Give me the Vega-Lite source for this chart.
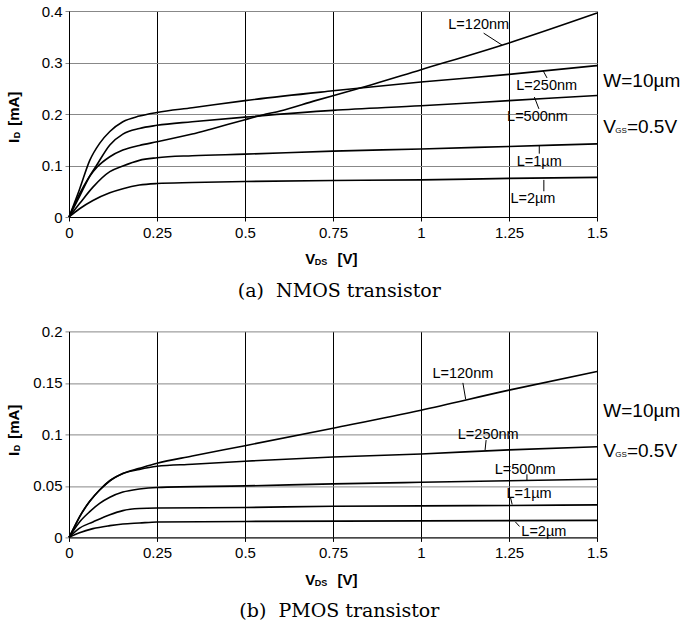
{
  "$schema": "https://vega.github.io/schema/vega-lite/v6.json",
  "padding": {"left": 6, "top": 4, "right": 0, "bottom": 0},
  "background": "#ffffff",
  "config": {
    "font": "Liberation Sans",
    "view": {"stroke": null},
    "axis": {"labelFont": "Liberation Sans", "labelFontSize": 15, "labelColor": "#000000", "domainColor": "#000000", "tickSize": 4, "title": null}
  },
  "bounds": "flush",
  "spacing": 114.4,
  "datasets": {
    "nmos": [
      {"L": "120nm", "v": 0, "i": 0}, {"L": "120nm", "v": 0.03, "i": 0.04}, {"L": "120nm", "v": 0.06, "i": 0.08}, {"L": "120nm", "v": 0.08, "i": 0.097}, {"L": "120nm", "v": 0.116, "i": 0.117}, {"L": "120nm", "v": 0.153, "i": 0.13}, {"L": "120nm", "v": 0.2, "i": 0.139}, {"L": "120nm", "v": 0.25, "i": 0.146}, {"L": "120nm", "v": 0.35, "i": 0.161}, {"L": "120nm", "v": 0.4, "i": 0.17}, {"L": "120nm", "v": 0.5, "i": 0.189}, {"L": "120nm", "v": 0.55, "i": 0.198}, {"L": "120nm", "v": 0.6, "i": 0.206}, {"L": "120nm", "v": 0.7, "i": 0.226}, {"L": "120nm", "v": 0.8, "i": 0.245}, {"L": "120nm", "v": 1.0, "i": 0.286}, {"L": "120nm", "v": 1.25, "i": 0.338}, {"L": "120nm", "v": 1.5, "i": 0.396},
      {"L": "250nm", "v": 0, "i": 0}, {"L": "250nm", "v": 0.03, "i": 0.054}, {"L": "250nm", "v": 0.059, "i": 0.11}, {"L": "250nm", "v": 0.087, "i": 0.143}, {"L": "250nm", "v": 0.116, "i": 0.166}, {"L": "250nm", "v": 0.153, "i": 0.185}, {"L": "250nm", "v": 0.2, "i": 0.196}, {"L": "250nm", "v": 0.25, "i": 0.203}, {"L": "250nm", "v": 0.35, "i": 0.212}, {"L": "250nm", "v": 0.5, "i": 0.226}, {"L": "250nm", "v": 0.75, "i": 0.245}, {"L": "250nm", "v": 1.0, "i": 0.262}, {"L": "250nm", "v": 1.25, "i": 0.277}, {"L": "250nm", "v": 1.5, "i": 0.294},
      {"L": "500nm", "v": 0, "i": 0}, {"L": "500nm", "v": 0.03, "i": 0.045}, {"L": "500nm", "v": 0.059, "i": 0.08}, {"L": "500nm", "v": 0.078, "i": 0.1}, {"L": "500nm", "v": 0.116, "i": 0.14}, {"L": "500nm", "v": 0.153, "i": 0.161}, {"L": "500nm", "v": 0.2, "i": 0.172}, {"L": "500nm", "v": 0.25, "i": 0.178}, {"L": "500nm", "v": 0.35, "i": 0.185}, {"L": "500nm", "v": 0.5, "i": 0.194}, {"L": "500nm", "v": 0.75, "i": 0.207}, {"L": "500nm", "v": 1.0, "i": 0.216}, {"L": "500nm", "v": 1.25, "i": 0.226}, {"L": "500nm", "v": 1.5, "i": 0.236},
      {"L": "1um", "v": 0, "i": 0}, {"L": "1um", "v": 0.03, "i": 0.026}, {"L": "1um", "v": 0.068, "i": 0.058}, {"L": "1um", "v": 0.116, "i": 0.088}, {"L": "1um", "v": 0.153, "i": 0.099}, {"L": "1um", "v": 0.2, "i": 0.11}, {"L": "1um", "v": 0.25, "i": 0.115}, {"L": "1um", "v": 0.35, "i": 0.119}, {"L": "1um", "v": 0.5, "i": 0.122}, {"L": "1um", "v": 0.75, "i": 0.128}, {"L": "1um", "v": 1.0, "i": 0.132}, {"L": "1um", "v": 1.25, "i": 0.137}, {"L": "1um", "v": 1.5, "i": 0.142},
      {"L": "2um", "v": 0, "i": 0}, {"L": "2um", "v": 0.03, "i": 0.016}, {"L": "2um", "v": 0.068, "i": 0.032}, {"L": "2um", "v": 0.116, "i": 0.047}, {"L": "2um", "v": 0.153, "i": 0.055}, {"L": "2um", "v": 0.2, "i": 0.062}, {"L": "2um", "v": 0.25, "i": 0.065}, {"L": "2um", "v": 0.35, "i": 0.067}, {"L": "2um", "v": 0.5, "i": 0.069}, {"L": "2um", "v": 0.75, "i": 0.071}, {"L": "2um", "v": 1.0, "i": 0.072}, {"L": "2um", "v": 1.25, "i": 0.075}, {"L": "2um", "v": 1.5, "i": 0.077}
    ],
    "pmos": [
      {"L": "120nm", "v": 0, "i": 0}, {"L": "120nm", "v": 0.015, "i": 0.01}, {"L": "120nm", "v": 0.03, "i": 0.02}, {"L": "120nm", "v": 0.059, "i": 0.035}, {"L": "120nm", "v": 0.087, "i": 0.046}, {"L": "120nm", "v": 0.116, "i": 0.055}, {"L": "120nm", "v": 0.153, "i": 0.062}, {"L": "120nm", "v": 0.2, "i": 0.067}, {"L": "120nm", "v": 0.25, "i": 0.072}, {"L": "120nm", "v": 0.35, "i": 0.079}, {"L": "120nm", "v": 0.5, "i": 0.089}, {"L": "120nm", "v": 0.75, "i": 0.106}, {"L": "120nm", "v": 1.0, "i": 0.1235}, {"L": "120nm", "v": 1.25, "i": 0.143}, {"L": "120nm", "v": 1.5, "i": 0.161},
      {"L": "250nm", "v": 0, "i": 0}, {"L": "250nm", "v": 0.015, "i": 0.01}, {"L": "250nm", "v": 0.03, "i": 0.02}, {"L": "250nm", "v": 0.059, "i": 0.035}, {"L": "250nm", "v": 0.087, "i": 0.046}, {"L": "250nm", "v": 0.116, "i": 0.055}, {"L": "250nm", "v": 0.153, "i": 0.062}, {"L": "250nm", "v": 0.2, "i": 0.066}, {"L": "250nm", "v": 0.25, "i": 0.069}, {"L": "250nm", "v": 0.35, "i": 0.071}, {"L": "250nm", "v": 0.5, "i": 0.074}, {"L": "250nm", "v": 0.75, "i": 0.078}, {"L": "250nm", "v": 1.0, "i": 0.081}, {"L": "250nm", "v": 1.25, "i": 0.085}, {"L": "250nm", "v": 1.5, "i": 0.088},
      {"L": "500nm", "v": 0, "i": 0}, {"L": "500nm", "v": 0.03, "i": 0.015}, {"L": "500nm", "v": 0.059, "i": 0.025}, {"L": "500nm", "v": 0.087, "i": 0.033}, {"L": "500nm", "v": 0.116, "i": 0.039}, {"L": "500nm", "v": 0.153, "i": 0.044}, {"L": "500nm", "v": 0.2, "i": 0.047}, {"L": "500nm", "v": 0.25, "i": 0.0485}, {"L": "500nm", "v": 0.5, "i": 0.05}, {"L": "500nm", "v": 0.75, "i": 0.052}, {"L": "500nm", "v": 1.0, "i": 0.0535}, {"L": "500nm", "v": 1.25, "i": 0.055}, {"L": "500nm", "v": 1.5, "i": 0.0565},
      {"L": "1um", "v": 0, "i": 0}, {"L": "1um", "v": 0.03, "i": 0.009}, {"L": "1um", "v": 0.068, "i": 0.015}, {"L": "1um", "v": 0.116, "i": 0.022}, {"L": "1um", "v": 0.153, "i": 0.026}, {"L": "1um", "v": 0.2, "i": 0.028}, {"L": "1um", "v": 0.25, "i": 0.0285}, {"L": "1um", "v": 0.5, "i": 0.029}, {"L": "1um", "v": 0.75, "i": 0.0303}, {"L": "1um", "v": 1.0, "i": 0.0306}, {"L": "1um", "v": 1.25, "i": 0.031}, {"L": "1um", "v": 1.5, "i": 0.0316},
      {"L": "2um", "v": 0, "i": 0}, {"L": "2um", "v": 0.03, "i": 0.0045}, {"L": "2um", "v": 0.068, "i": 0.0085}, {"L": "2um", "v": 0.116, "i": 0.0114}, {"L": "2um", "v": 0.153, "i": 0.013}, {"L": "2um", "v": 0.2, "i": 0.014}, {"L": "2um", "v": 0.25, "i": 0.015}, {"L": "2um", "v": 0.5, "i": 0.0155}, {"L": "2um", "v": 1.0, "i": 0.016}, {"L": "2um", "v": 1.5, "i": 0.0165}
    ],
    "nlead": [
      {"v": 1.178, "i": 0.357, "v2": 1.23, "i2": 0.334},
      {"v": 1.347, "i": 0.284, "v2": 1.358, "i2": 0.27},
      {"v": 1.322, "i": 0.233, "v2": 1.335, "i2": 0.21},
      {"v": 1.336, "i": 0.139, "v2": 1.336, "i2": 0.123},
      {"v": 1.349, "i": 0.072, "v2": 1.349, "i2": 0.05}
    ],
    "plead": [
      {"v": 1.119, "i": 0.15, "v2": 1.127, "i2": 0.134},
      {"v": 1.185, "i": 0.0945, "v2": 1.182, "i2": 0.0848},
      {"v": 1.301, "i": 0.0613, "v2": 1.301, "i2": 0.0548},
      {"v": 1.254, "i": 0.039, "v2": 1.259, "i2": 0.032},
      {"v": 1.268, "i": 0.0151, "v2": 1.28, "i2": 0.0106}
    ],
    "nlab": [
      {"v": 1.164, "i": 0.373, "t": "L=120nm"},
      {"v": 1.357, "i": 0.255, "t": "L=250nm"},
      {"v": 1.331, "i": 0.194, "t": "L=500nm"},
      {"v": 1.336, "i": 0.106, "t": "L=1µm"},
      {"v": 1.318, "i": 0.0346, "t": "L=2µm"}
    ],
    "plab": [
      {"v": 1.119, "i": 0.159, "t": "L=120nm"},
      {"v": 1.191, "i": 0.0995, "t": "L=250nm"},
      {"v": 1.296, "i": 0.0653, "t": "L=500nm"},
      {"v": 1.307, "i": 0.042, "t": "L=1µm"},
      {"v": 1.349, "i": 0.0048, "t": "L=2µm"}
    ],
    "nnote": [
      {"role": "big", "v": 1.518, "i": 0.265, "t": "W=10µm"},
      {"role": "big", "v": 1.518, "i": 0.175, "t": "V"},
      {"role": "big", "v": 1.585, "i": 0.175, "t": "=0.5V"},
      {"role": "sub", "v": 1.552, "i": 0.1676, "t": "GS"},
      {"role": "tb", "v": 0.671, "i": -0.082, "t": "V"},
      {"role": "tb", "v": 0.763, "i": -0.082, "t": "[V]"},
      {"role": "ts", "v": 0.698, "i": -0.088, "t": "DS"},
      {"role": "yb", "v": -0.157, "i": 0.1437, "t": "I"},
      {"role": "yb", "v": -0.157, "i": 0.177, "t": "[mA]"},
      {"role": "ys", "v": -0.149, "i": 0.153, "t": "D"},
      {"role": "cap", "v": 0.768, "i": -0.143, "t": "(a)\u00a0 NMOS transistor"}
    ],
    "pnote": [
      {"role": "big", "v": 1.518, "i": 0.1226, "t": "W=10µm"},
      {"role": "big", "v": 1.518, "i": 0.0835, "t": "V"},
      {"role": "big", "v": 1.585, "i": 0.0835, "t": "=0.5V"},
      {"role": "sub", "v": 1.552, "i": 0.0797, "t": "GS"},
      {"role": "tb", "v": 0.671, "i": -0.0409, "t": "V"},
      {"role": "tb", "v": 0.763, "i": -0.0409, "t": "[V]"},
      {"role": "ts", "v": 0.698, "i": -0.0438, "t": "DS"},
      {"role": "yb", "v": -0.157, "i": 0.079, "t": "I"},
      {"role": "yb", "v": -0.157, "i": 0.0957, "t": "[mA]"},
      {"role": "ys", "v": -0.149, "i": 0.0836, "t": "D"},
      {"role": "cap", "v": 0.768, "i": -0.0713, "t": "(b)\u00a0 PMOS transistor"}
    ]
  },
  "vconcat": [
    {
      "width": 528,
      "height": 206,
      "encoding": {
        "x": {"field": "v", "type": "quantitative", "scale": {"domain": [0, 1.5]},
              "axis": {"values": [0, 0.25, 0.5, 0.75, 1, 1.25, 1.5], "labelExpr": "'' + datum.value", "labelFontSize": 15, "labelFont": "Liberation Sans", "grid": true, "gridColor": "#000000", "gridOpacity": 1, "tickColor": "#000000", "labelPadding": 4, "labelFlush": false, "labelOverlap": false}},
        "y": {"field": "i", "type": "quantitative", "scale": {"domain": [0, 0.4]},
              "axis": {"values": [0, 0.1, 0.2, 0.3, 0.4], "labelExpr": "'' + datum.value", "labelFontSize": 15, "labelFont": "Liberation Sans", "grid": true, "gridColor": "#888888", "gridOpacity": 1, "tickColor": "#888888", "labelPadding": 3, "labelFlush": false, "labelOverlap": false}}
      },
      "layer": [
        {"data": {"name": "nmos"}, "mark": {"type": "line", "color": "#000000", "strokeWidth": 1.6, "interpolate": "monotone"}, "encoding": {"detail": {"field": "L"}}},
        {"data": {"name": "nlead"}, "mark": {"type": "rule", "color": "#000000", "strokeWidth": 1}, "encoding": {"x2": {"field": "v2"}, "y2": {"field": "i2"}}},
        {"data": {"name": "nlab"}, "mark": {"type": "text", "fontSize": 14.5, "align": "center", "baseline": "middle", "color": "#000000"}, "encoding": {"text": {"field": "t"}}},
        {"data": {"name": "nnote"}, "transform": [{"filter": "datum.role === 'big'"}], "mark": {"type": "text", "fontSize": 19, "align": "left", "baseline": "middle", "color": "#000000"}, "encoding": {"text": {"field": "t"}}},
        {"data": {"name": "nnote"}, "transform": [{"filter": "datum.role === 'sub'"}], "mark": {"type": "text", "fontSize": 8, "align": "left", "baseline": "middle", "color": "#000000"}, "encoding": {"text": {"field": "t"}}},
        {"data": {"name": "nnote"}, "transform": [{"filter": "datum.role === 'tb'"}], "mark": {"type": "text", "fontSize": 15, "fontWeight": "bold", "align": "left", "baseline": "middle", "color": "#000000"}, "encoding": {"text": {"field": "t"}}},
        {"data": {"name": "nnote"}, "transform": [{"filter": "datum.role === 'ts'"}], "mark": {"type": "text", "fontSize": 9, "fontWeight": "bold", "align": "left", "baseline": "middle", "color": "#000000"}, "encoding": {"text": {"field": "t"}}},
        {"data": {"name": "nnote"}, "transform": [{"filter": "datum.role === 'yb'"}], "mark": {"type": "text", "fontSize": 15, "fontWeight": "bold", "align": "left", "baseline": "middle", "angle": 270, "color": "#000000"}, "encoding": {"text": {"field": "t"}}},
        {"data": {"name": "nnote"}, "transform": [{"filter": "datum.role === 'ys'"}], "mark": {"type": "text", "fontSize": 9, "fontWeight": "bold", "align": "left", "baseline": "middle", "angle": 270, "color": "#000000"}, "encoding": {"text": {"field": "t"}}},
        {"data": {"name": "nnote"}, "transform": [{"filter": "datum.role === 'cap'"}], "mark": {"type": "text", "font": "DejaVu Serif", "fontSize": 19, "align": "center", "baseline": "middle", "color": "#000000"}, "encoding": {"text": {"field": "t"}}}
      ]
    },
    {
      "width": 528,
      "height": 206,
      "encoding": {
        "x": {"field": "v", "type": "quantitative", "scale": {"domain": [0, 1.5]},
              "axis": {"values": [0, 0.25, 0.5, 0.75, 1, 1.25, 1.5], "labelExpr": "'' + datum.value", "labelFontSize": 15, "labelFont": "Liberation Sans", "grid": true, "gridColor": "#000000", "gridOpacity": 1, "tickColor": "#000000", "labelPadding": 4, "labelFlush": false, "labelOverlap": false}},
        "y": {"field": "i", "type": "quantitative", "scale": {"domain": [0, 0.2]},
              "axis": {"values": [0, 0.05, 0.1, 0.15, 0.2], "labelExpr": "'' + datum.value", "labelFontSize": 15, "labelFont": "Liberation Sans", "grid": true, "gridColor": "#888888", "gridOpacity": 1, "tickColor": "#888888", "labelPadding": 3, "labelFlush": false, "labelOverlap": false}}
      },
      "layer": [
        {"data": {"name": "pmos"}, "mark": {"type": "line", "color": "#000000", "strokeWidth": 1.6, "interpolate": "monotone"}, "encoding": {"detail": {"field": "L"}}},
        {"data": {"name": "plead"}, "mark": {"type": "rule", "color": "#000000", "strokeWidth": 1}, "encoding": {"x2": {"field": "v2"}, "y2": {"field": "i2"}}},
        {"data": {"name": "plab"}, "mark": {"type": "text", "fontSize": 14.5, "align": "center", "baseline": "middle", "color": "#000000"}, "encoding": {"text": {"field": "t"}}},
        {"data": {"name": "pnote"}, "transform": [{"filter": "datum.role === 'big'"}], "mark": {"type": "text", "fontSize": 19, "align": "left", "baseline": "middle", "color": "#000000"}, "encoding": {"text": {"field": "t"}}},
        {"data": {"name": "pnote"}, "transform": [{"filter": "datum.role === 'sub'"}], "mark": {"type": "text", "fontSize": 8, "align": "left", "baseline": "middle", "color": "#000000"}, "encoding": {"text": {"field": "t"}}},
        {"data": {"name": "pnote"}, "transform": [{"filter": "datum.role === 'tb'"}], "mark": {"type": "text", "fontSize": 15, "fontWeight": "bold", "align": "left", "baseline": "middle", "color": "#000000"}, "encoding": {"text": {"field": "t"}}},
        {"data": {"name": "pnote"}, "transform": [{"filter": "datum.role === 'ts'"}], "mark": {"type": "text", "fontSize": 9, "fontWeight": "bold", "align": "left", "baseline": "middle", "color": "#000000"}, "encoding": {"text": {"field": "t"}}},
        {"data": {"name": "pnote"}, "transform": [{"filter": "datum.role === 'yb'"}], "mark": {"type": "text", "fontSize": 15, "fontWeight": "bold", "align": "left", "baseline": "middle", "angle": 270, "color": "#000000"}, "encoding": {"text": {"field": "t"}}},
        {"data": {"name": "pnote"}, "transform": [{"filter": "datum.role === 'ys'"}], "mark": {"type": "text", "fontSize": 9, "fontWeight": "bold", "align": "left", "baseline": "middle", "angle": 270, "color": "#000000"}, "encoding": {"text": {"field": "t"}}},
        {"data": {"name": "pnote"}, "transform": [{"filter": "datum.role === 'cap'"}], "mark": {"type": "text", "font": "DejaVu Serif", "fontSize": 19, "align": "center", "baseline": "middle", "color": "#000000"}, "encoding": {"text": {"field": "t"}}}
      ]
    }
  ]
}
